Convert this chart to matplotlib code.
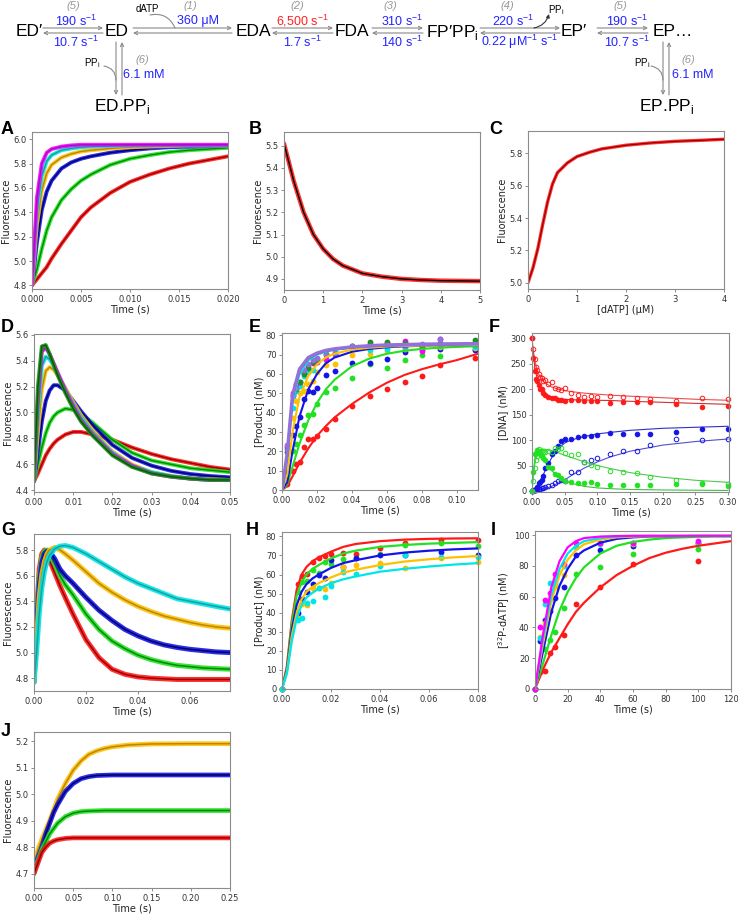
import numpy as np
import matplotlib.pyplot as plt

plt.rcParams['font.family'] = ['DejaVu Sans']
plt.rcParams['font.size'] = 6
plt.rcParams['axes.linewidth'] = 0.8

SANS = ['Liberation Sans', 'DejaVu Sans']

# colours (data / fit)
RED, RED_F = '#ff1a1a', '#9a0000'
GRN, GRN_F = '#22e022', '#008a00'
BLU, BLU_F = '#1414e6', '#00006e'
ORA, ORA_F = '#ffc000', '#b8860b'
CYA, CYA_F = '#00e5e5', '#1a9f9f'
MAG, MAG_F = '#ff00ff', '#9a10c8'
DKG, DKG_F = '#1f8f1f', '#006000'
PUR = '#9370db'

# ---------------- data ----------------
# A: binding traces
a_t = [0, 0.0005, 0.001, 0.0015, 0.002, 0.003, 0.004, 0.005, 0.006, 0.008,
       0.010, 0.012, 0.014, 0.016, 0.018, 0.020]
a_red = [4.8, 4.85, 4.9, 4.95, 5.02, 5.14, 5.25, 5.36, 5.44, 5.56, 5.65, 5.71, 5.76, 5.8, 5.83, 5.86]
a_grn = [4.8, 4.93, 5.1, 5.25, 5.36, 5.5, 5.59, 5.66, 5.71, 5.79, 5.84, 5.87, 5.895, 5.91, 5.92, 5.93]
a_blu = [4.8, 5.15, 5.42, 5.57, 5.66, 5.76, 5.81, 5.84, 5.86, 5.89, 5.91, 5.925, 5.935, 5.94, 5.945, 5.95]
a_ora = [4.8, 5.3, 5.58, 5.72, 5.79, 5.85, 5.88, 5.9, 5.91, 5.925, 5.935, 5.94, 5.945, 5.95, 5.95, 5.95]
a_cya = [4.8, 5.42, 5.7, 5.82, 5.87, 5.91, 5.925, 5.935, 5.94, 5.945, 5.95, 5.95, 5.95, 5.95, 5.95, 5.95]
a_mag = [4.8, 5.52, 5.8, 5.89, 5.92, 5.94, 5.95, 5.955, 5.955, 5.955, 5.955, 5.955, 5.955, 5.955, 5.955, 5.955]

# B: dissociation trace
b_t = [0, 0.25, 0.5, 0.75, 1, 1.25, 1.5, 2, 2.5, 3, 3.5, 4, 5]
b_f = [5.51, 5.34, 5.2, 5.1, 5.035, 4.99, 4.96, 4.925, 4.91, 4.9, 4.895, 4.892, 4.89]

# C: titration
c_x = [0, 0.1, 0.2, 0.3, 0.4, 0.5, 0.6, 0.8, 1.0, 1.25, 1.5, 2, 2.5, 3, 3.5, 4]
c_f = [5.0, 5.09, 5.21, 5.36, 5.5, 5.61, 5.68, 5.74, 5.78, 5.806, 5.827, 5.85, 5.864, 5.874, 5.88, 5.887]

# D: stopped-flow traces
d_t = [0, 0.001, 0.002, 0.003, 0.004, 0.005, 0.006, 0.008, 0.010, 0.012, 0.015,
       0.02, 0.025, 0.03, 0.035, 0.04, 0.045, 0.05]
d_red = [4.47, 4.53, 4.6, 4.67, 4.72, 4.76, 4.79, 4.83, 4.85, 4.85, 4.83, 4.79, 4.73, 4.68, 4.64, 4.61, 4.58, 4.56]
d_grn = [4.47, 4.6, 4.73, 4.84, 4.92, 4.97, 5.0, 5.03, 5.02, 4.99, 4.92, 4.79, 4.69, 4.63, 4.6, 4.57, 4.555, 4.54]
d_blu = [4.47, 4.7, 4.93, 5.09, 5.17, 5.21, 5.21, 5.17, 5.09, 5.01, 4.9, 4.75, 4.65, 4.59, 4.55, 4.525, 4.51, 4.5]
d_ora = [4.47, 4.85, 5.18, 5.32, 5.35, 5.33, 5.29, 5.19, 5.08, 4.98, 4.86, 4.7, 4.6, 4.54, 4.51, 4.49, 4.485, 4.48]
d_cya = [4.47, 5.0, 5.36, 5.43, 5.41, 5.36, 5.3, 5.18, 5.06, 4.96, 4.84, 4.69, 4.59, 4.54, 4.51, 4.49, 4.48, 4.48]
d_mag = [4.47, 5.1, 5.47, 5.5, 5.45, 5.38, 5.31, 5.17, 5.05, 4.94, 4.83, 4.68, 4.59, 4.53, 4.505, 4.49, 4.48, 4.48]
d_dkg = [4.47, 5.2, 5.51, 5.52, 5.45, 5.37, 5.29, 5.15, 5.03, 4.93, 4.82, 4.67, 4.58, 4.53, 4.505, 4.49, 4.48, 4.48]

# E: quench-flow product points and fits
e_t = [0.003, 0.006, 0.008, 0.01, 0.0125, 0.015, 0.0175, 0.02, 0.025, 0.03, 0.04,
       0.05, 0.06, 0.07, 0.08, 0.09, 0.11]
e_red = [3.1, 9.8, 13.5, 14.7, 22.3, 26.2, 26.2, 28, 31.4, 36.6, 43.6, 48.7, 52.4, 56, 59.1, 64.6, 68.1]
e_grn = [6, 20, 24, 28.5, 33.5, 39, 39.5, 44.5, 50.5, 53, 58, 65.3, 63.2, 67.4, 69.7, 69.2, 73]
e_blu = [9.5, 28.5, 33, 38, 47, 51, 50.5, 52.5, 59.5, 61.3, 65.8, 65.9, 68, 71.5, 72.7, 73, 72.5]
e_ora = [12, 37, 46, 50, 51, 55, 56.5, 61, 64.5, 65, 70, 70.5, 72, 73, 73.5, 74, 73.5]
e_cya = [21, 42.5, 51, 54, 59, 61, 62, 66, 67, 72, 74.5, 72.5, 73, 73.5, 74, 74.5, 74]
e_mag = [22, 50, 55, 56, 62, 64, 65.5, 66, 68, 70.5, 74, 75.5, 76, 77, 72, 78, 75.5]
e_dkg = [19.5, 49, 52, 56, 60, 63, 66, 68, 70.5, 70.5, 74.5, 76.5, 76.5, 76, 74.5, 76, 77.5]
e_pur = [23.5, 48.5, 53, 61.5, 62, 65, 67, 68.5, 70, 71, 74.5, 74.5, 75, 74.5, 75.5, 78, 75]
ef_t = [0, 0.003, 0.006, 0.01, 0.015, 0.02, 0.025, 0.03, 0.04, 0.05, 0.06, 0.07, 0.08, 0.09, 0.1, 0.112]
ef_red = [0, 2, 7, 14, 21.5, 28, 33, 37.5, 44.5, 50.5, 55.5, 59.5, 62.5, 65, 67.2, 70.5]
ef_grn = [0, 3, 12, 24, 36, 45, 52, 57, 64, 68, 70.5, 72, 73, 73.6, 74, 74.4]
ef_blu = [0, 4, 20, 38, 52, 60, 65.5, 68.5, 71.5, 73, 73.8, 74.3, 74.6, 74.8, 74.9, 75]
ef_ora = [0, 8, 30, 48, 59, 65, 68.5, 70.5, 72.6, 73.6, 74.2, 74.5, 74.7, 74.8, 74.9, 75]
ef_cya = [0, 16, 45, 60, 67, 70, 71.5, 72.5, 73.6, 74.3, 74.7, 74.9, 75, 75.1, 75.2, 75.3]
ef_mag = [0, 18, 48, 62, 68, 70.5, 72, 72.8, 73.8, 74.4, 74.8, 75, 75.2, 75.3, 75.4, 75.5]
ef_pur = [0, 19, 49, 62.5, 68.5, 70.8, 72.2, 73, 74, 74.6, 75, 75.2, 75.4, 75.5, 75.6, 75.7]

# F: DNA species
f_t = [0, 0.002, 0.004, 0.006, 0.008, 0.01, 0.012, 0.015, 0.0175, 0.02, 0.025, 0.03, 0.035,
       0.04, 0.045, 0.05, 0.06, 0.07, 0.08, 0.09, 0.1, 0.12, 0.14, 0.16, 0.18, 0.22, 0.26, 0.3]
f_red_o = [300, 278, 259, 244, 237, 230, 224, 222, 215, 217, 210, 213, 202, 200, 198, 203, 193,
           188, 185, 187, 185, 187, 184, 183, 180, 176, 182, 180]
f_red_c = [300, 260, 235, 220, 215, 207, 201, 200, 193, 188, 185, 183, 182, 178, 178, 176, 178,
           178, 177, 176, 176, 172, 175, 175, 174, 170, 165, 166]
f_blu_c = [0, 1, 2, 3, 7, 15, 18, 22, 30, 46, 55, 72, 78, 88, 98, 102, 102, 105, 108, 107, 110,
           113, 112, 111, 112, 115, 122, 122]
f_blu_o = [0, 0, 1, 2, 3, 3, 4, 5, 6, 7, 9, 12, 15, 20, 21, 20, 37, 38, 57, 60, 65, 72, 79, 79,
           90, 102, 100, 102]
f_grn_c = [0, 38, 72, 75, 80, 78, 72, 68, 65, 60, 47, 45, 33, 31, 25, 20, 18, 16, 15, 17, 14, 12,
           12, 11, 12, 13, 13, 10]
f_grn_o = [0, 20, 45, 60, 68, 82, 79, 79, 76, 77, 78, 76, 85, 83, 85, 75, 71, 73, 56, 51, 48, 40,
           37, 36, 27, 21, 15, 14]
ff_t = [0, 0.002, 0.005, 0.008, 0.01, 0.015, 0.02, 0.03, 0.04, 0.05, 0.06, 0.08, 0.1, 0.12,
        0.15, 0.2, 0.25, 0.3]
ff_red_o = [300, 275, 252, 238, 230, 219, 212, 204, 200, 197, 195, 192, 190, 188, 186, 183, 180, 178]
ff_red_c = [300, 265, 238, 220, 210, 197, 190, 184, 182, 180, 179, 178.5, 178, 177.5, 176, 174, 172, 170]
ff_blu_c = [0, 0.5, 2, 6, 12, 25, 40, 65, 83, 94, 100, 107, 112, 115, 119, 123, 125, 127]
ff_blu_o = [0, 0, 0.5, 1, 1.5, 2.5, 4, 9, 15, 22, 30, 45, 57, 67, 78, 90, 97, 102]
ff_grn_c = [0, 40, 68, 76, 76, 68, 58, 40, 28, 20, 15, 9, 6, 4.5, 3, 2, 1.5, 1]
ff_grn_o = [0, 28, 58, 72, 78, 82, 82, 78, 75, 70, 66, 57, 50, 44, 36, 27, 21, 17]

# G: stopped-flow traces
g_t = [0, 0.001, 0.002, 0.003, 0.004, 0.005, 0.006, 0.008, 0.01, 0.012, 0.015, 0.02, 0.025,
       0.03, 0.035, 0.04, 0.045, 0.05, 0.055, 0.06, 0.065, 0.07, 0.0754]
g_red = [4.77, 5.3, 5.65, 5.77, 5.8, 5.78, 5.72, 5.62, 5.52, 5.43, 5.3, 5.1, 4.96, 4.87, 4.83,
         4.81, 4.8, 4.795, 4.79, 4.79, 4.79, 4.79, 4.79]
g_grn = [4.77, 5.25, 5.58, 5.74, 5.79, 5.8, 5.77, 5.69, 5.6, 5.53, 5.45, 5.3, 5.18, 5.09, 5.03,
         4.98, 4.945, 4.92, 4.9, 4.89, 4.88, 4.875, 4.87]
g_blu = [4.77, 5.2, 5.52, 5.7, 5.77, 5.79, 5.79, 5.73, 5.65, 5.6, 5.54, 5.43, 5.33, 5.25, 5.18,
         5.13, 5.09, 5.06, 5.04, 5.025, 5.015, 5.005, 5.0]
g_ora = [4.77, 5.1, 5.43, 5.61, 5.71, 5.77, 5.8, 5.82, 5.8, 5.77, 5.72, 5.63, 5.54, 5.47, 5.41,
         5.36, 5.32, 5.285, 5.26, 5.235, 5.215, 5.2, 5.19]
g_cya = [4.77, 5.0, 5.3, 5.5, 5.63, 5.71, 5.76, 5.81, 5.83, 5.835, 5.82, 5.77, 5.71, 5.65, 5.59,
         5.54, 5.5, 5.46, 5.42, 5.4, 5.38, 5.36, 5.34]

# H: product formation
h_t = [0, 0.0065, 0.008, 0.01, 0.0125, 0.015, 0.0175, 0.02, 0.025, 0.03, 0.04, 0.05, 0.065, 0.08]
h_red = [0, 55, 59, 60.5, 66.5, 68.5, 69.5, 71, 71.5, 71, 74, 76.5, 78, 78]
h_grn = [0, 51, 56, 56.5, 62.5, 61, 66.5, 65.5, 68, 68.5, 71, 75.5, 76.5, 75]
h_blu = [0, 40, 47, 51, 55, 60, 58, 67.5, 64, 68.5, 70, 70, 72, 70.5]
h_ora = [0, 37, 44.5, 44, 53, 53, 52.5, 55.5, 64, 65, 66, 63.5, 68.5, 66.5]
h_cya = [0, 36, 37, 45, 46, 53, 48, 54, 61.5, 60.5, 64.5, 70.5, 69, 69]
hf_t = [0, 0.002, 0.004, 0.006, 0.008, 0.01, 0.0125, 0.015, 0.02, 0.025, 0.03, 0.04, 0.05, 0.06, 0.07, 0.08]
hf_red = [0, 12, 36, 52, 60, 64, 67, 69, 72, 74.5, 76, 77.5, 78.3, 78.7, 78.9, 79]
hf_grn = [0, 11, 34, 49, 56, 60, 63, 65, 68.5, 71, 72.5, 74.5, 75.5, 76.2, 76.6, 77]
hf_blu = [0, 10, 31, 44, 51, 55, 58, 60, 63.5, 66, 67.5, 70, 71.5, 72.5, 73.2, 73.7]
hf_ora = [0, 9, 28, 40, 47, 51, 53.5, 55.5, 58.5, 61, 62.5, 65, 66.8, 68, 69, 69.7]
hf_cya = [0, 8, 25, 37, 44, 48, 50.5, 52.5, 55.5, 57.5, 59, 61.5, 63, 64.2, 65.2, 66]

# I: [32P]-dATP
i_t = [0, 3, 6, 9, 12, 18, 25, 40, 60, 100]
i_red = [0, 11, 12, 23.5, 27, 35, 55, 66, 81, 83]
i_grn = [0, 13.5, 26, 32, 37, 52.5, 75, 79.5, 87.5, 91]
i_blu = [0, 31, 45, 50.5, 59, 66, 87, 90.5, 93, 95]
i_ora = [0, 34, 43, 58, 66.5, 74, 92, 95, 94, 95]
i_cya = [0, 33, 55, 69, 69, 80, 92.5, 94, 95, 95]
i_mag = [0, 40, 58, 62.5, 75, 81, 95, 95, 95, 96]
if_t = [0, 5, 10, 15, 20, 25, 30, 40, 50, 60, 70, 80, 90, 100, 110, 120]
if_red = [0, 13, 24, 33, 42, 50, 56, 66, 74, 80, 85, 88.5, 91, 93, 94.5, 96]
if_grn = [0, 17, 35, 51, 63, 72, 79, 88, 93, 95.5, 97, 98, 98.5, 98.8, 99, 99]
if_blu = [0, 25, 50, 67, 78, 86, 90, 95, 97.5, 98.5, 99, 99.2, 99.3, 99.4, 99.4, 99.4]
if_ora = [0, 30, 57, 74, 84, 90, 94, 97, 98.5, 99, 99.2, 99.3, 99.4, 99.4, 99.4, 99.4]
if_cya = [0, 33, 61, 78, 88, 93, 96, 98, 99, 99.3, 99.4, 99.4, 99.4, 99.4, 99.4, 99.4]
if_mag = [0, 36, 66, 83, 92, 96, 98, 99, 99.3, 99.5, 99.5, 99.5, 99.5, 99.5, 99.5, 99.5]

# J: traces
j_t = [0, 0.005, 0.01, 0.015, 0.02, 0.025, 0.03, 0.04, 0.05, 0.06, 0.07, 0.08, 0.09, 0.1,
       0.12, 0.15, 0.2, 0.25]
j_ora = [4.74, 4.79, 4.83, 4.865, 4.9, 4.94, 4.98, 5.04, 5.09, 5.125, 5.15, 5.163, 5.172, 5.178,
         5.185, 5.189, 5.19, 5.19]
j_blu = [4.72, 4.76, 4.8, 4.85, 4.89, 4.93, 4.96, 5.01, 5.04, 5.058, 5.066, 5.07, 5.071, 5.072,
         5.072, 5.072, 5.072, 5.072]
j_grn = [4.7, 4.75, 4.79, 4.82, 4.85, 4.87, 4.89, 4.915, 4.928, 4.934, 4.936, 4.937, 4.938,
         4.938, 4.938, 4.938, 4.938, 4.938]
j_red = [4.7, 4.74, 4.78, 4.8, 4.815, 4.823, 4.828, 4.833, 4.835, 4.835, 4.835, 4.835, 4.835,
         4.835, 4.835, 4.835, 4.835, 4.835]

# ---------------- figure ----------------
W, H = 738, 917
fig = plt.figure(figsize=(W / 100, H / 100), dpi=100)


def make_ax(x0, y0, x1, y1):
    ax = fig.add_axes([x0 / W, 1 - y1 / H, (x1 - x0) / W, (y1 - y0) / H])
    for s in ax.spines.values():
        s.set_color('#8c8c8c')
    ax.tick_params(labelsize=6, length=2.5, width=0.7, color='#8c8c8c', labelcolor='#333333', pad=1.5)
    return ax


def label(ax, xl, yl):
    ax.set_xlabel(xl, fontsize=7, labelpad=1, color='#222222')
    ax.set_ylabel(yl, fontsize=7, labelpad=1.5, color='#222222')


def trace(ax, t, y, c, fc, lw=3.0, flw=1.0):
    ax.plot(t, y, color=c, lw=lw, alpha=0.9, solid_capstyle='round', solid_joinstyle='round')
    ax.plot(t, y, color=fc, lw=flw)


# A
ax = make_ax(32, 132, 228, 289)
for y, c, fc in [(a_red, RED, RED_F), (a_grn, GRN, GRN_F), (a_blu, BLU, BLU_F),
                 (a_ora, ORA, ORA_F), (a_cya, CYA, CYA_F), (a_mag, MAG, MAG_F)]:
    trace(ax, a_t, y, c, fc, lw=2.8)
ax.set_xlim(0, 0.02)
ax.set_ylim(4.77, 6.06)
ax.set_xticks([0, 0.005, 0.01, 0.015, 0.02])
ax.set_xticklabels(['0.000', '0.005', '0.010', '0.015', '0.020'])
ax.set_yticks([4.8, 5.0, 5.2, 5.4, 5.6, 5.8, 6.0])
label(ax, 'Time (s)', 'Fluorescence')

# B
ax = make_ax(284, 132, 480, 290)
trace(ax, b_t, b_f, RED, 'black', lw=3.2, flw=1.0)
ax.set_xlim(0, 5)
ax.set_ylim(4.85, 5.562)
ax.set_yticks([4.9, 5.0, 5.1, 5.2, 5.3, 5.4, 5.5])
label(ax, 'Time (s)', 'Fluorescence')

# C
ax = make_ax(528, 131, 724, 289)
trace(ax, c_x, c_f, RED, RED_F, lw=2.4, flw=0.9)
ax.set_xlim(0, 4)
ax.set_ylim(4.961, 5.938)
ax.set_yticks([5.0, 5.2, 5.4, 5.6, 5.8])
label(ax, '[dATP] (μM)', 'Fluorescence')

# D
ax = make_ax(34, 334, 230, 492)
for y, c, fc in [(d_red, RED, RED_F), (d_grn, GRN, GRN_F), (d_blu, BLU, BLU_F), (d_ora, ORA, ORA_F),
                 (d_cya, CYA, CYA_F), (d_mag, MAG, MAG_F), (d_dkg, DKG, DKG_F)]:
    trace(ax, d_t, y, c, fc, lw=2.8)
ax.set_xlim(0, 0.05)
ax.set_ylim(4.387, 5.605)
ax.set_xticks([0, 0.01, 0.02, 0.03, 0.04, 0.05])
ax.set_yticks([4.4, 4.6, 4.8, 5.0, 5.2, 5.4, 5.6])
label(ax, 'Time (s)', 'Fluorescence')

# E
ax = make_ax(282, 333, 478, 490)
for y, c in [(e_red, RED), (e_grn, GRN), (e_blu, BLU), (e_ora, ORA), (e_cya, CYA),
             (e_mag, MAG), (e_dkg, DKG), (e_pur, PUR)]:
    ax.plot(e_t, y, 'o', color=c, ms=4.2, mew=0, clip_on=False)
for y, c, lw in [(ef_red, RED, 1.5), (ef_grn, GRN, 1.5), (ef_blu, BLU, 1.5), (ef_ora, ORA, 1.5),
                 (ef_cya, CYA, 1.5), (ef_mag, MAG, 1.5), (ef_mag, DKG, 1.5), (ef_pur, PUR, 2.5)]:
    ax.plot(ef_t, y, color=c, lw=lw)
ax.set_xlim(0, 0.112)
ax.set_ylim(0, 81.2)
ax.set_xticks([0, 0.02, 0.04, 0.06, 0.08, 0.10])
ax.set_xticklabels(['0.00', '0.02', '0.04', '0.06', '0.08', '0.10'])
ax.set_yticks(range(0, 81, 10))
label(ax, 'Time (s)', '[Product] (nM)')

# F
ax = make_ax(532, 333, 729, 492)
for y, c in [(ff_red_o, '#e85050'), (ff_red_c, '#d03030'), (ff_blu_c, '#3030c8'),
             (ff_blu_o, '#5050d0'), (ff_grn_c, '#40c040'), (ff_grn_o, '#50c850')]:
    ax.plot(ff_t, y, color=c, lw=0.8)
for y, c, fill in [(f_red_o, RED, False), (f_red_c, RED, True), (f_blu_c, BLU, True),
                   (f_blu_o, BLU, False), (f_grn_c, GRN, True), (f_grn_o, GRN, False)]:
    ax.plot(f_t, y, 'o', color=c, ms=3.3, mew=0.7, mfc=c if fill else 'none', clip_on=False)
ax.set_xlim(0, 0.3015)
ax.set_ylim(-2, 310)
ax.set_xticks([0, 0.05, 0.1, 0.15, 0.2, 0.25, 0.3])
ax.set_xticklabels(['0.00', '0.05', '0.10', '0.15', '0.20', '0.25', '0.30'])
ax.set_yticks(range(0, 301, 50))
label(ax, 'Time (s)', '[DNA] (nM)')

# G
ax = make_ax(34, 534, 230, 691)
for y, c, fc in [(g_red, RED, RED_F), (g_grn, GRN, GRN_F), (g_blu, BLU, BLU_F),
                 (g_ora, ORA, ORA_F), (g_cya, CYA, CYA_F)]:
    trace(ax, g_t, y, c, fc, lw=3.6, flw=1.1)
ax.set_xlim(0, 0.0754)
ax.set_ylim(4.70, 5.925)
ax.set_xticks([0, 0.02, 0.04, 0.06])
ax.set_yticks([4.8, 5.0, 5.2, 5.4, 5.6, 5.8])
label(ax, 'Time (s)', 'Fluorescence')

# H
ax = make_ax(282, 532, 478, 689)
for y, c in [(h_red, RED), (h_grn, GRN), (h_blu, BLU), (h_ora, ORA), (h_cya, CYA)]:
    ax.plot(h_t, y, 'o', color=c, ms=4.2, mew=0, clip_on=False)
for y, c in [(hf_red, RED), (hf_grn, GRN), (hf_blu, BLU), (hf_ora, ORA), (hf_cya, CYA)]:
    ax.plot(hf_t, y, color=c, lw=1.6)
ax.set_xlim(0, 0.08)
ax.set_ylim(0, 82.3)
ax.set_xticks([0, 0.02, 0.04, 0.06, 0.08])
ax.set_xticklabels(['0.00', '0.02', '0.04', '0.06', '0.08'])
ax.set_yticks(range(0, 81, 10))
label(ax, 'Time (s)', '[Product] (nM)')

# I
ax = make_ax(535, 531, 731, 689)
for y, c in [(i_red, RED), (i_grn, GRN), (i_blu, BLU), (i_ora, ORA), (i_cya, CYA), (i_mag, MAG)]:
    ax.plot(i_t, y, 'o', color=c, ms=4.2, mew=0, clip_on=False)
for y, c in [(if_red, RED), (if_grn, GRN), (if_blu, BLU), (if_ora, ORA), (if_cya, CYA), (if_mag, MAG)]:
    ax.plot(if_t, y, color=c, lw=1.6)
ax.set_xlim(0, 120)
ax.set_ylim(0, 102.6)
ax.set_xticks(range(0, 121, 20))
ax.set_yticks(range(0, 101, 20))
label(ax, 'Time (s)', r'[$^{\mathregular{32}}$P-dATP] (nM)')

# J
ax = make_ax(34, 732, 230, 888)
for y, c, fc in [(j_ora, ORA, ORA_F), (j_blu, BLU, BLU_F), (j_grn, GRN, GRN_F), (j_red, RED, RED_F)]:
    trace(ax, j_t, y, c, fc, lw=3.4, flw=1.1)
ax.set_xlim(0, 0.25)
ax.set_ylim(4.646, 5.234)
ax.set_xticks([0, 0.05, 0.1, 0.15, 0.2, 0.25])
ax.set_xticklabels(['0.00', '0.05', '0.10', '0.15', '0.20', '0.25'])
ax.set_yticks([4.7, 4.8, 4.9, 5.0, 5.1, 5.2])
label(ax, 'Time (s)', 'Fluorescence')

# ---------------- overlay: panel letters and reaction scheme ----------------
ov = fig.add_axes([0, 0, 1, 1], facecolor='none')
ov.set_xlim(0, W)
ov.set_ylim(H, 0)
ov.axis('off')

for s, x, y in [('A', 1, 121), ('B', 249, 121), ('C', 489, 121), ('D', 1, 319), ('E', 249, 319),
                ('F', 489, 319), ('G', 1, 522), ('H', 246, 522), ('I', 491, 522), ('J', 1, 723)]:
    ov.text(x, y, s, fontsize=13, fontweight='bold', family=SANS, ha='left', va='top')

TBLUE, TRED, GRAY = '#2323ff', '#ff2020', '#8a8a8a'
SUP = r'$^{\mathregular{-1}}$'
PPI = r'PP$_{\mathregular{i}}$'

for s, x in [('ED′', 29), ('ED', 117), ('EDA', 253), ('FDA', 352),
             ('FP′' + PPI, 452), ('EP′', 574), ('EP…', 673)]:
    ov.text(x, 32, s, fontsize=12.5, family=SANS, ha='center', va='center')
ov.text(122, 107, 'ED.' + PPI, fontsize=12.5, family=SANS, ha='center', va='center')
ov.text(667, 107, 'EP.' + PPI, fontsize=12.5, family=SANS, ha='center', va='center')

ap = dict(arrowstyle='->', color=GRAY, lw=0.8, shrinkA=0, shrinkB=0, mutation_scale=6)
for x0, x1 in [(43, 103), (133, 232), (272, 333), (372, 423), (480, 560), (597, 648)]:
    ov.annotate('', xy=(x1, 28), xytext=(x0, 28), arrowprops=ap)
    ov.annotate('', xy=(x0, 33), xytext=(x1, 33), arrowprops=ap)
for xd in [116, 663]:
    ov.annotate('', xy=(xd, 95), xytext=(xd, 42), arrowprops=ap)
    ov.annotate('', xy=(xd + 6, 42), xytext=(xd + 6, 95), arrowprops=ap)

for s, x, y in [('(5)', 73, 6), ('(1)', 190, 6), ('(2)', 297, 6), ('(3)', 390, 6),
                ('(4)', 507, 6), ('(5)', 620, 6), ('(6)', 142, 60), ('(6)', 688, 60)]:
    ov.text(x, y, s, fontsize=8, color='#999999', style='italic', family=SANS, ha='center', va='center')

for s, x, y, c in [('190 s' + SUP, 76, 21, TBLUE), ('10.7 s' + SUP, 76, 42, TBLUE),
                   ('360 μM', 198, 21, TBLUE),
                   ('6,500 s' + SUP, 302, 21, TRED), ('1.7 s' + SUP, 302, 42, TBLUE),
                   ('310 s' + SUP, 402, 21, TBLUE), ('140 s' + SUP, 402, 42, TBLUE),
                   ('220 s' + SUP, 513, 21, TBLUE), ('0.22 μM' + SUP + ' s' + SUP, 520, 42, TBLUE),
                   ('190 s' + SUP, 627, 21, TBLUE), ('10.7 s' + SUP, 627, 42, TBLUE),
                   ('6.1 mM', 144, 75, TBLUE), ('6.1 mM', 693, 75, TBLUE)]:
    ov.text(x, y, s, fontsize=9, color=c, family=SANS, ha='center', va='center')

for s, x, y in [('dATP', 147, 9), (PPI, 556, 10), (PPI, 92, 63), (PPI, 642, 63)]:
    ov.text(x, y, s, fontsize=7, family=SANS, ha='center', va='center')

cp = dict(arrowstyle='-', color=GRAY, lw=0.8, shrinkA=0, shrinkB=0)
ov.annotate('', xy=(175, 28), xytext=(150, 15), arrowprops=dict(cp, connectionstyle='arc3,rad=-0.4'))
ov.annotate('', xy=(116, 80), xytext=(104, 66), arrowprops=dict(cp, connectionstyle='arc3,rad=-0.4'))
ov.annotate('', xy=(663, 80), xytext=(651, 66), arrowprops=dict(cp, connectionstyle='arc3,rad=-0.4'))
ov.annotate('', xy=(549, 14), xytext=(534, 28),
            arrowprops=dict(arrowstyle='-|>', color='#333333', lw=0.8, shrinkA=0, shrinkB=0,
                            mutation_scale=5, connectionstyle='arc3,rad=0.3'))

fig.savefig('out.png', dpi=100)
